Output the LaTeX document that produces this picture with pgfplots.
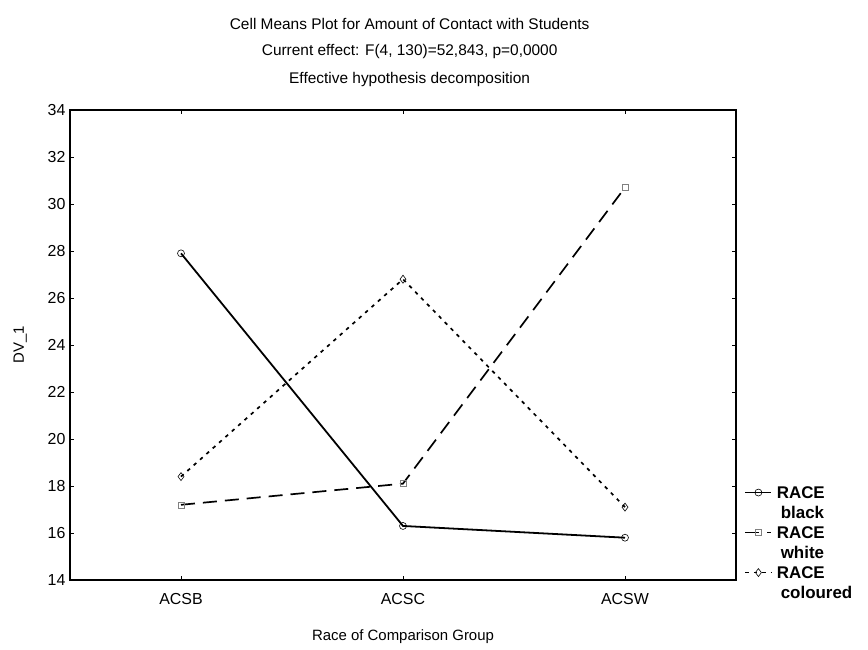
\documentclass[border=0pt]{standalone}
\usepackage{pgfplots}
\pgfplotsset{compat=1.18}
\usepackage{fontspec}
\setmainfont{Liberation Sans}
\begin{document}
\begin{tikzpicture}
\useasboundingbox (-70bp,-70bp) rectangle (798bp,580bp);
\begin{axis}[
  scale only axis,
  clip=false,
  width=666bp, height=470bp,
  xmin=-0.5, xmax=2.5,
  ymin=14, ymax=34,
  xtick={0,1,2},
  xticklabels={ACSB,ACSC,ACSW},
  ytick={14,16,...,34},
  tick align=inside,
  major tick length=4bp,
  axis line style={line width=1.5pt},
  every tick/.style={black, line width=0.8pt},
  tick label style={font=\fontsize{16}{18}\selectfont},
  xticklabel style={yshift=-10bp},
  yticklabel style={xshift=-1bp},
  /pgf/number format/assume math mode=true,
  xlabel={Race of Comparison Group},
  ylabel={DV\_1},
  label style={font=\fontsize{15}{17}\selectfont},
  xlabel style={yshift=-18bp},
  ylabel style={yshift=14bp},
  legend style={at={(1.008,0.212)}, anchor=north west, draw=none, fill=none,
    font=\bfseries\fontsize{17}{18}\selectfont, nodes={inner sep=1.5pt, text depth=0.5pt, minimum height=20bp},
    row sep=0bp},
  legend cell align=left,
  legend image code/.code={\draw[#1, mark repeat=2, mark phase=2] plot coordinates {(0bp,0bp)(13bp,0bp)(26bp,0bp)};},
]
\addplot[black, line width=1.8pt, mark=o, mark size=3.5pt, mark options={solid, fill=white, line width=0.6pt}]
  coordinates {(0,27.9) (1,16.3) (2,15.8)};
\addlegendentry{\hspace*{3bp}RACE}
\addlegendimage{empty legend}
\addlegendentry{\hspace*{7bp}black}
\addplot[black, line width=1.7pt, dash pattern=on 14bp off 8bp, mark=square, mark size=3pt, mark options={solid, fill=white, draw=gray, line width=0.5pt}]
  coordinates {(0,17.2) (1,18.1) (2,30.7)};
\addlegendentry{\hspace*{3bp}RACE}
\addlegendimage{empty legend}
\addlegendentry{\hspace*{7bp}white}
\addplot[black, line width=1.7pt, dash pattern=on 3.5bp off 5bp, mark=diamond, mark size=4pt, mark options={solid, fill=white, line width=0.6pt}]
  coordinates {(0,18.4) (1,26.8) (2,17.1)};
\addlegendentry{\hspace*{3bp}RACE}
\addlegendimage{empty legend}
\addlegendentry{\hspace*{7bp}coloured}
\node[font=\fontsize{15.5}{17}\selectfont] at (rel axis cs:0.51,1) [yshift=86bp] {Cell Means Plot for Amount of Contact with Students};
\node[font=\fontsize{15.5}{17}\selectfont] at (rel axis cs:0.51,1) [yshift=58bp] {Current effect: F(4, 130)=52,843, p=0,0000};
\node[font=\fontsize{15.5}{17}\selectfont] at (rel axis cs:0.51,1) [yshift=30bp] {Effective hypothesis decomposition};
\end{axis}
\end{tikzpicture}
\end{document}
